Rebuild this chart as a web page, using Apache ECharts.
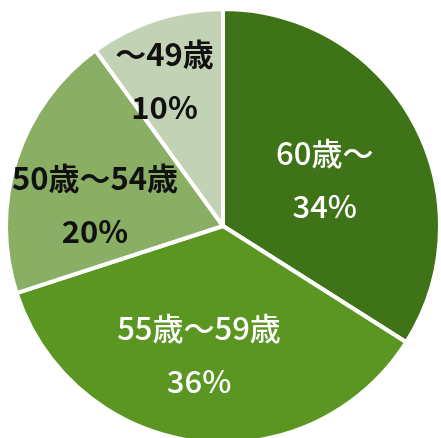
<!DOCTYPE html>
<html><head><meta charset="utf-8">
<script src="https://cdn.jsdelivr.net/npm/echarts@6/dist/echarts.min.js"></script>
<style>html,body{margin:0;padding:0;background:#fff}#c{width:441px;height:438px}</style>
</head><body><div id="c"></div>
<script>
var categories = ['60歳〜', '55歳〜59歳', '50歳〜54歳', '〜49歳'];
var values = [34, 36, 20, 10];
var colors = ['#3e7317', '#5a9621', '#89ae64', '#c2d2b4'];
var labelColors = ['#ffffff', '#ffffff', '#111111', '#111111'];
var labelFonts = ['"Noto Sans CJK JP Medium", "Noto Sans CJK JP"', '"Noto Sans CJK JP Medium", "Noto Sans CJK JP"', 'Noto Sans CJK JP', 'Noto Sans CJK JP'];
var labelWeights = ['500', '500', 'bold', 'bold'];
var labelOffsets = [[4, 7], [-10, 18], [-22, 13], [-24, -39]];

var data = categories.map(function (c, i) {
  return {
    name: c, value: values[i],
    itemStyle: { color: colors[i] },
    label: { color: labelColors[i], fontWeight: labelWeights[i], fontFamily: labelFonts[i], offset: labelOffsets[i] }
  };
});

var chart = echarts.init(document.getElementById('c'));
chart.setOption({
  animation: false,
  series: [{
    type: 'pie',
    center: [223, 226],
    radius: 217,
    startAngle: 90,
    clockwise: true,
    itemStyle: { borderColor: '#ffffff', borderWidth: 4 },
    label: {
      show: true,
      position: 'inside',
      formatter: '{b}\n{c}%',
      fontSize: 31,
      lineHeight: 53
    },
    labelLine: { show: false },
    data: data
  }]
});
</script></body></html>
